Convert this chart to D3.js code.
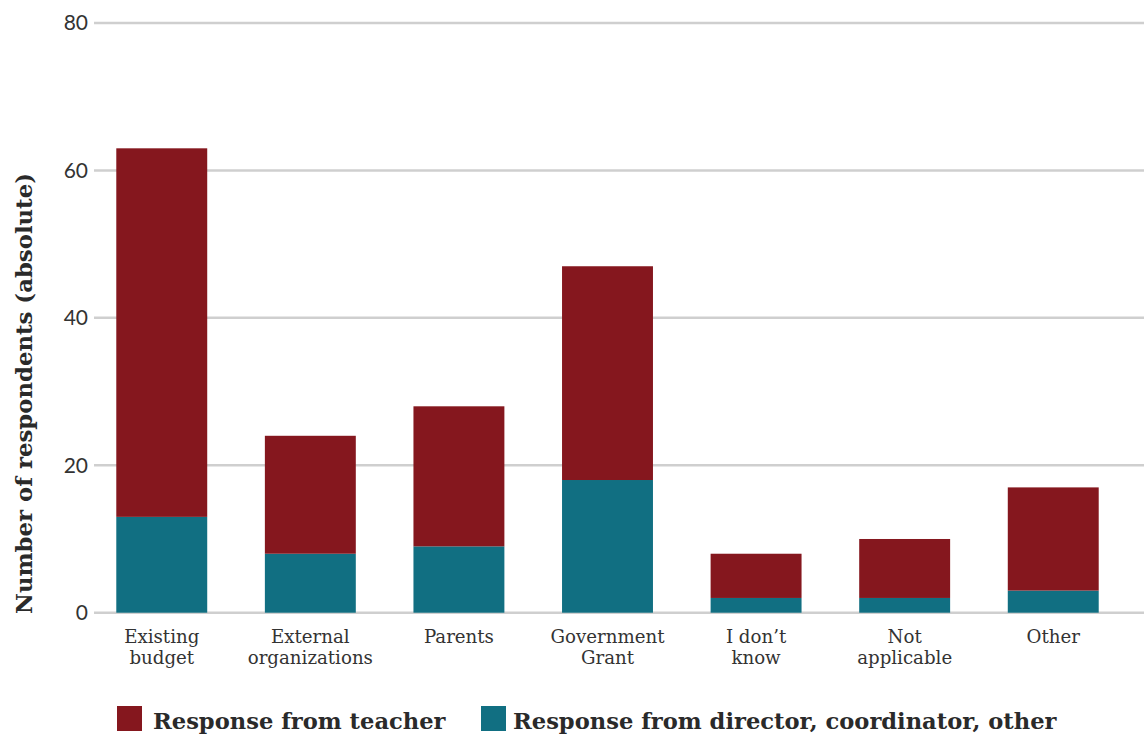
<!DOCTYPE html>
<html>
<head>
<meta charset="utf-8">
<script src="https://cdn.jsdelivr.net/npm/d3@7"></script>
<style>
  html, body { margin: 0; padding: 0; background: #fff; }
  svg { display: block; }
</style>
</head>
<body>
<svg id="chart" width="1144" height="734"></svg>
<script>
const categories = [["Existing", "budget"], ["External", "organizations"], ["Parents"], ["Government", "Grant"], ["I don\u2019t", "know"], ["Not", "applicable"], ["Other"]];
const teacher = [50, 16, 19, 29, 6, 8, 14];
const director = [13, 8, 9, 18, 2, 2, 3];
const yTicks = [0, 20, 40, 60, 80];
const seriesNames = ["Response from teacher", "Response from director, coordinator, other"];
const colors = ["#85171e", "#116f82"];

const svg = d3.select("#chart");
const keys = categories.map((c, i) => i);
const x = d3.scaleBand().domain(keys).range([94, 1121]).paddingInner(0.388).paddingOuter(0.15);
const y = d3.scaleLinear().domain([0, 80]).range([612.7, 23]);

// gridlines
svg.append("g").selectAll("line").data(yTicks).join("line")
  .attr("x1", 94).attr("x2", 1144)
  .attr("y1", d => y(d)).attr("y2", d => y(d))
  .attr("stroke", "#cfcfcf").attr("stroke-width", 2.5);

// y tick labels
svg.append("g").selectAll("text").data(yTicks).join("text")
  .attr("x", 88).attr("y", d => y(d)).attr("dy", "0.35em")
  .attr("text-anchor", "end")
  .attr("font-family", "Lato, 'Open Sans', sans-serif")
  .attr("font-size", 21).attr("fill", "#333")
  .text(d => d);

// stacked data
const rows = keys.map(i => ({ i, teacher: teacher[i], director: director[i] }));
const stack = d3.stack().keys(["director", "teacher"])(rows);
const colorBy = { director: colors[1], teacher: colors[0] };

svg.append("g").selectAll("g").data(stack).join("g")
  .attr("fill", s => colorBy[s.key])
  .selectAll("rect").data(s => s).join("rect")
  .attr("x", d => x(d.data.i))
  .attr("width", x.bandwidth())
  .attr("y", d => y(d[1]))
  .attr("height", d => y(d[0]) - y(d[1]));

// category labels
const catG = svg.append("g");
categories.forEach((lines, i) => {
  const t = catG.append("text")
    .attr("x", x(i) + x.bandwidth() / 2)
    .attr("y", 643)
    .attr("text-anchor", "middle")
    .attr("font-family", "'DejaVu Serif', serif")
    .attr("font-size", 18.2).attr("fill", "#333");
  lines.forEach((l, k) => {
    t.append("tspan").attr("x", x(i) + x.bandwidth() / 2).attr("dy", k === 0 ? 0 : 21).text(l);
  });
});

// y axis title
svg.append("text")
  .attr("transform", "translate(32," + 393.5 + ") rotate(-90)")
  .attr("text-anchor", "middle")
  .attr("font-family", "'DejaVu Serif', serif")
  .attr("font-weight", "bold")
  .attr("font-size", 22.8).attr("fill", "#2a2a2a")
  .text("Number of respondents (absolute)");

// legend
const legendX = [117, 481];
const lg = svg.append("g");
seriesNames.forEach((name, i) => {
  lg.append("rect").attr("x", legendX[i]).attr("y", 706).attr("width", 25).attr("height", 25).attr("fill", colors[i]);
  lg.append("text").attr("x", legendX[i] + (i === 0 ? 36 : 32)).attr("y", 729)
    .attr("font-family", "'DejaVu Serif', serif")
    .attr("font-weight", "bold")
    .attr("font-size", 22.6).attr("fill", "#2a2a2a")
    .text(name);
});
</script>
</body>
</html>
